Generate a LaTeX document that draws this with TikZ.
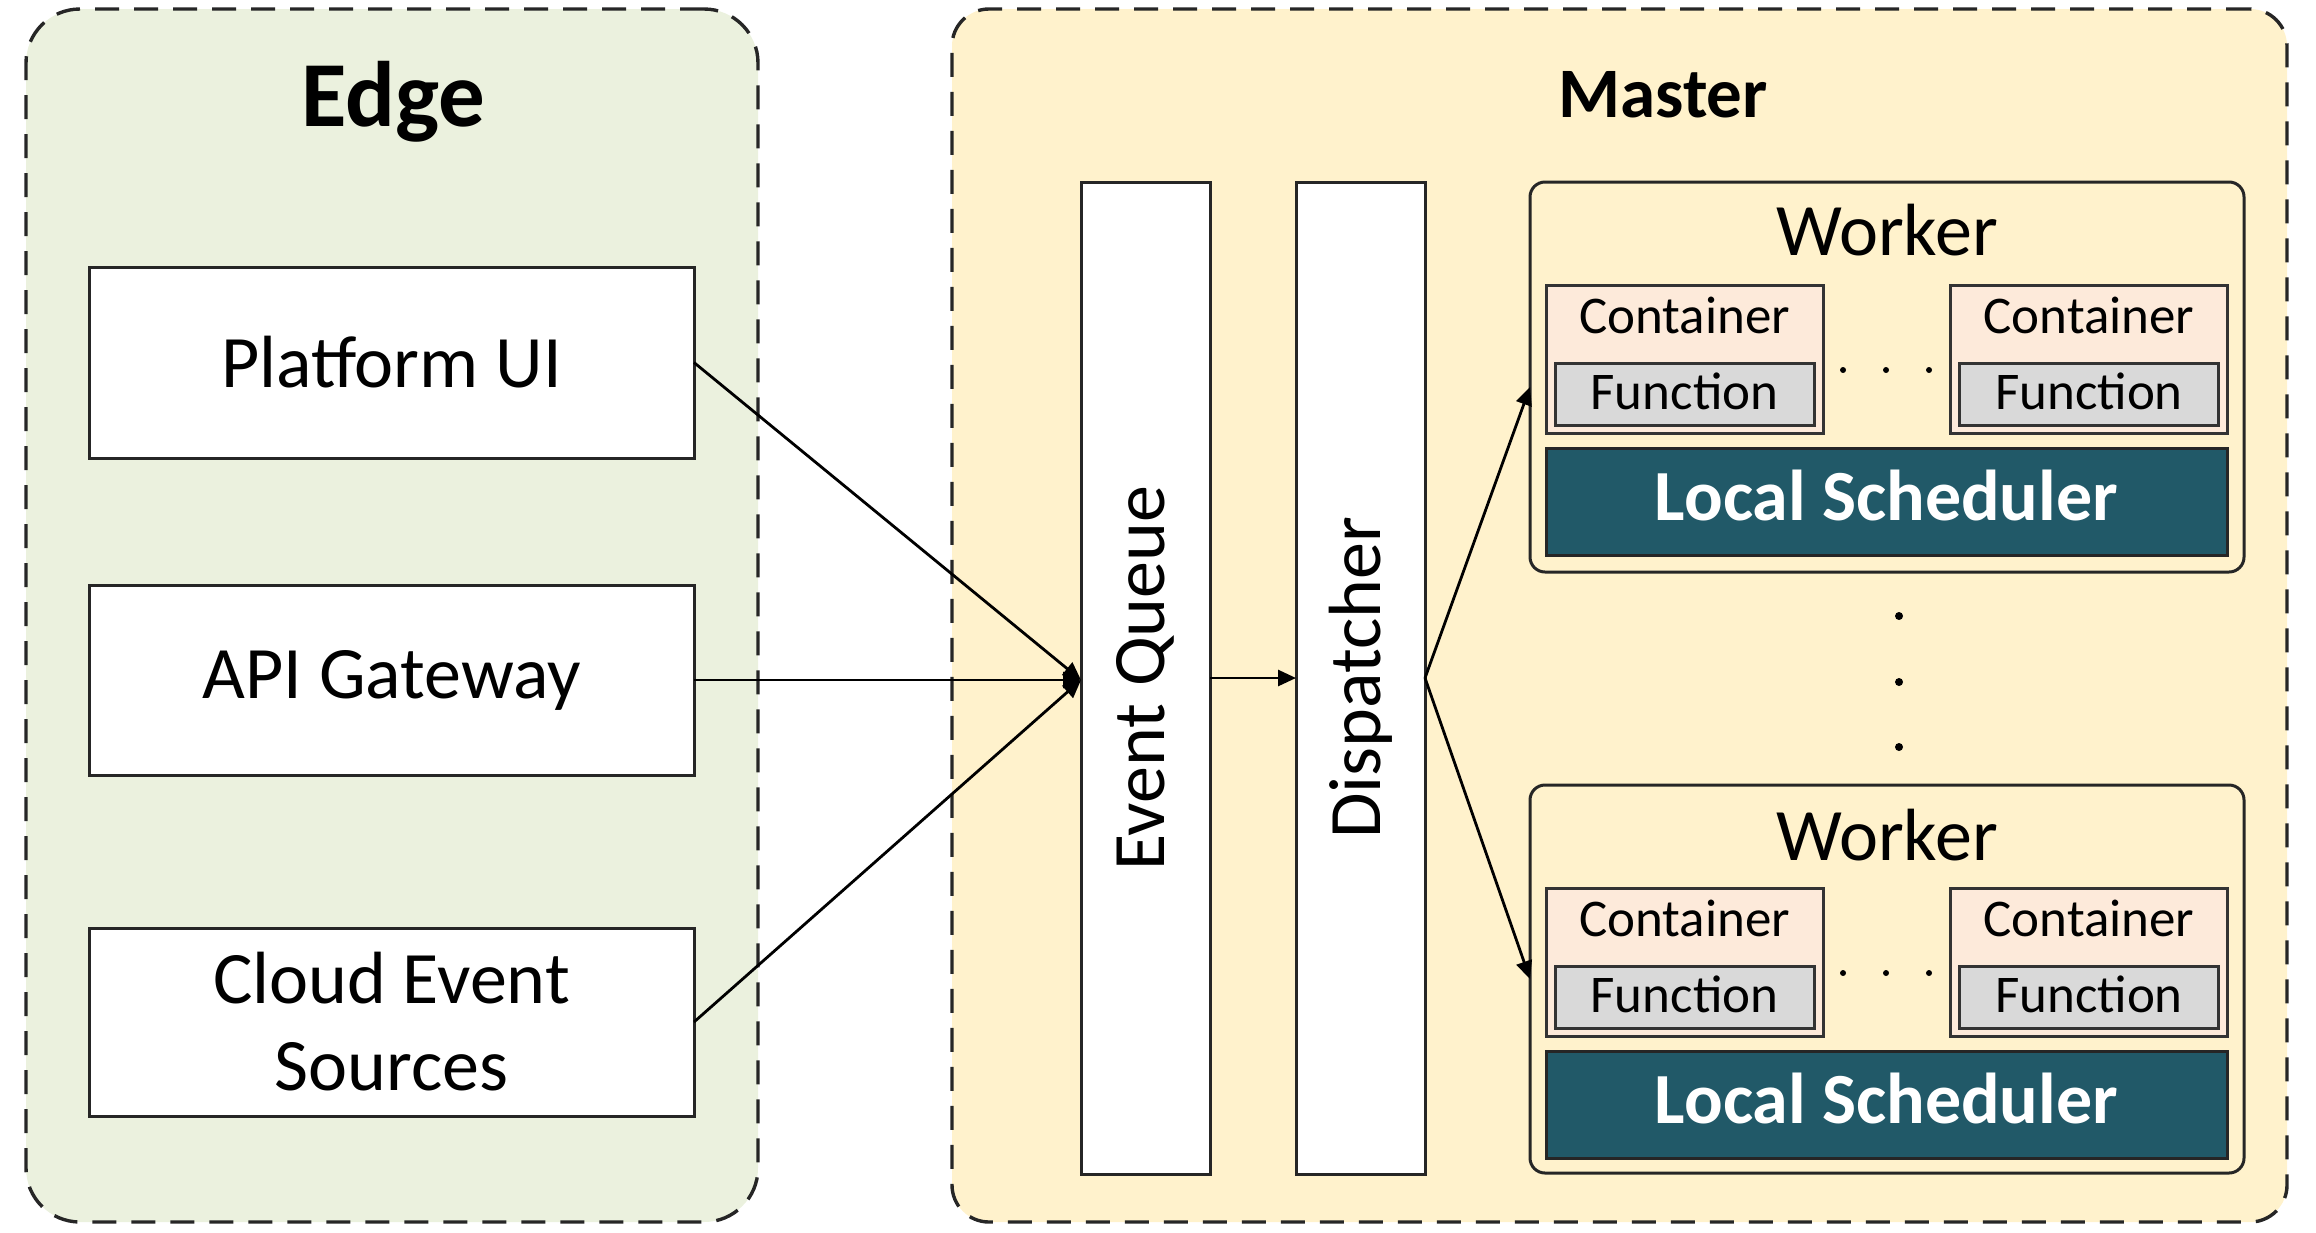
\documentclass[tikz,border=0pt]{standalone}
\usepackage{fontspec}
\setmainfont{Carlito}
\usetikzlibrary{arrows.meta}
\definecolor{edgefill}{HTML}{EBF1DE}
\definecolor{masterfill}{HTML}{FFF2CC}
\definecolor{contfill}{HTML}{FDEADA}
\definecolor{funcfill}{HTML}{D9D9D9}
\definecolor{lsfill}{HTML}{215968}
\definecolor{dashcol}{HTML}{262626}
\begin{document}
\begin{tikzpicture}[x=0.5pt,y=-0.5pt,
  every node/.style={inner sep=0pt, outer sep=0pt},
  region/.style={rectangle, draw=dashcol, line width=1.7pt, dash pattern=on 12pt off 7.5pt},
  plainbox/.style={rectangle, draw=black!85, line width=1.5pt, fill=white},
  workerbox/.style={rectangle, draw=black!85, line width=1.5pt, rounded corners=7.5pt, minimum width=357pt},
  contbox/.style={rectangle, draw=black!80, line width=1.5pt, fill=contfill, minimum width=138.5pt, minimum height=74pt},
  funcbox/.style={rectangle, draw=black!80, line width=1.5pt, fill=funcfill, minimum width=129.5pt, minimum height=31pt},
  lsbox/.style={rectangle, draw=black!85, line width=1.5pt, fill=lsfill, minimum width=340.5pt, minimum height=53.5pt},
  bigtxt/.style={font=\fontsize{37}{43.5}\selectfont},
  title/.style={font=\bfseries\fontsize{35.5}{40}\selectfont, anchor=base},
  wtxt/.style={font=\fontsize{37}{42}\selectfont, anchor=base},
  ctxt/.style={font=\fontsize{26.5}{30}\selectfont, anchor=base},
  lstxt/.style={font=\bfseries\fontsize{36}{40}\selectfont, text=white, anchor=base},
  conn/.style={line width=1.4pt, -{Triangle[length=9pt,width=8pt]}},
  dotmark/.style={fill=black}
]
\useasboundingbox (0,0) rectangle (2316,1232);

% regions
\node[region, fill=edgefill, rounded corners=27pt, minimum width=366pt, minimum height=606.5pt] (edge) at (392,615.5) {};
\node[region, fill=masterfill, rounded corners=18.5pt, minimum width=667.5pt, minimum height=606.5pt] (master) at (1619.5,615.5) {};
\node[title, font=\bfseries\fontsize{46.5}{52}\selectfont] (edget) at (393,126) {Edge};
\node[title] (mastert) at (1663,117) {Master};

% edge boxes
\node[plainbox, bigtxt, minimum width=302.5pt, minimum height=95.5pt] (plat) at (391.5,362.5) {Platform UI};
\node[plainbox, bigtxt, minimum width=302.5pt, minimum height=95pt] (api) at (391.5,680) {API Gateway};
\node[plainbox, bigtxt, align=center, minimum width=302.5pt, minimum height=94pt] (cloud) at (391.5,1022) {Cloud Event\\Sources};

% queue and dispatcher
\node[plainbox, minimum width=64.5pt, minimum height=496pt] (eq) at (1145.5,678) {};
\node[bigtxt, rotate=90] (eqt) at (eq.center) {Event Queue};
\node[plainbox, minimum width=64.5pt, minimum height=496pt] (disp) at (1360.5,678) {};
\node[bigtxt, rotate=90] (dispt) at (disp.center) {Dispatcher};

% worker 1
\node[workerbox, minimum height=195pt] (w1) at (1887,377) {};
\node[wtxt] (w1t) at (1887,255) {Worker};
\node[contbox] (c1a) at (1684.5,359) {};
\node[ctxt] (c1at) at (1684.5,333) {Container};
\node[funcbox] (f1a) at (1684.5,394) {};
\node[ctxt] (f1at) at (1684.5,409) {Function};
\node[contbox] (c1b) at (2089,359) {};
\node[ctxt] (c1bt) at (2089,333) {Container};
\node[funcbox] (f1b) at (2089,394) {};
\node[ctxt] (f1bt) at (2089,409) {Function};
\node[lsbox] (ls1) at (1886.5,501.5) {};
\node[lstxt] (ls1t) at (1886.5,520) {Local Scheduler};
\fill[dotmark] (1843,370) circle (1.5pt) (1886,370) circle (1.5pt) (1929,370) circle (1.5pt);

% vertical dots
\fill[dotmark] (1899,616) circle (2pt) (1899,682) circle (2pt) (1899,747) circle (2pt);

% worker 2
\node[workerbox, minimum height=194pt] (w2) at (1887,979) {};
\node[wtxt] (w2t) at (1887,860) {Worker};
\node[contbox] (c2a) at (1684.5,962) {};
\node[ctxt] (c2at) at (1684.5,936) {Container};
\node[funcbox] (f2a) at (1684.5,997) {};
\node[ctxt] (f2at) at (1684.5,1012) {Function};
\node[contbox] (c2b) at (2089,962) {};
\node[ctxt] (c2bt) at (2089,936) {Container};
\node[funcbox] (f2b) at (2089,997) {};
\node[ctxt] (f2bt) at (2089,1012) {Function};
\node[lsbox] (ls2) at (1886.5,1105) {};
\node[lstxt] (ls2t) at (1886.5,1123.5) {Local Scheduler};
\fill[dotmark] (1843,973) circle (1.5pt) (1886,973) circle (1.5pt) (1929,973) circle (1.5pt);

% connectors
\coordinate (eqin) at (api.east -| eq.west);
\draw[conn] (plat.east) -- (eqin);
\draw[conn] (api.east) -- (eqin);
\draw[conn] (cloud.east) -- (eqin);
\draw[conn] (eq.east) -- (disp.west);
\draw[conn] (disp.east) -- ([yshift=-5pt]w1.west);
\draw[conn] (disp.east) -- (w2.west);
\end{tikzpicture}
\end{document}
